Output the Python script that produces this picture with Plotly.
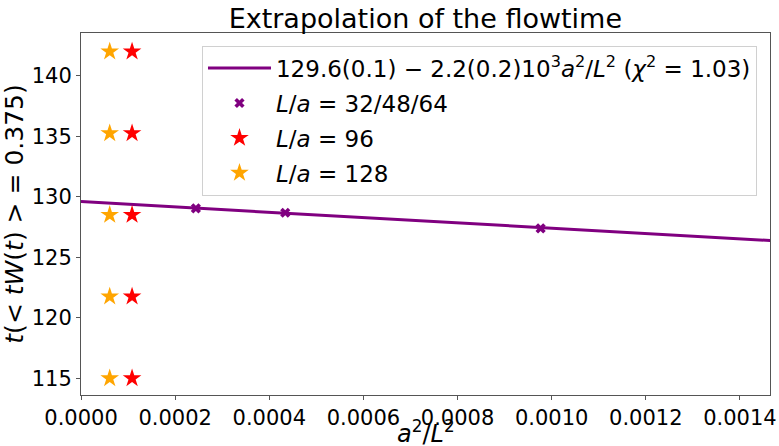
import plotly.graph_objects as go

# --- data ---
x_fit_pts = [0.0009766, 0.0004340, 0.0002441]   # L/a = 32, 48, 64
y_fit_pts = [127.39, 128.68, 129.04]
err_fit_pts = [0.08, 0.08, 0.08]

x_96 = [0.0001085] * 5
y_96 = [115.0, 121.75, 128.5, 135.25, 142.0]

x_128 = [0.0000610] * 5
y_128 = [115.0, 121.75, 128.5, 135.25, 142.0]

line_x = [0.0, 0.0015]
line_y = [129.6, 126.3]

x_ticks = [0.0, 0.0002, 0.0004, 0.0006, 0.0008, 0.0010, 0.0012, 0.0014]
y_ticks = [115, 120, 125, 130, 135, 140]

FONT = "DejaVu Sans"
PURPLE = "#800080"

fig = go.Figure()
fig.add_trace(go.Scatter(
    x=line_x, y=line_y, mode="lines",
    line=dict(color=PURPLE, width=3), legendgroup="a",
    name="129.6(0.1) − 2.2(0.2)10<sup>3</sup><i>a</i><sup>2</sup>/<i>L</i><sup>2</sup> (<i>χ</i><sup>2</sup> = 1.03)",
))
fig.add_trace(go.Scatter(
    x=x_fit_pts, y=y_fit_pts, mode="markers", legendgroup="b",
    marker=dict(symbol="x", size=9, color=PURPLE),
    error_y=dict(type="data", array=err_fit_pts, color=PURPLE, thickness=1, width=0),
    name="<i>L</i>/<i>a</i> = 32/48/64",
))
fig.add_trace(go.Scatter(
    x=x_96, y=y_96, mode="markers", legendgroup="c",
    marker=dict(symbol="star", size=14, color="red"),
    name="<i>L</i>/<i>a</i> = 96",
))
fig.add_trace(go.Scatter(
    x=x_128, y=y_128, mode="markers", legendgroup="d",
    marker=dict(symbol="star", size=14, color="orange"),
    name="<i>L</i>/<i>a</i> = 128",
))

axis_common = dict(
    showline=True, linecolor="#555", linewidth=1, mirror=True,
    ticks="outside", ticklen=4, tickcolor="#555",
    showgrid=False, zeroline=False, automargin=False,
    tickfont=dict(family=FONT, size=21, color="black"),
)

fig.update_layout(
    width=779, height=446,
    margin=dict(l=81, r=9, t=33, b=51),
    paper_bgcolor="white", plot_bgcolor="white",
    font=dict(family=FONT, color="black"),
    title=dict(text="Extrapolation of the flowtime", x=0.546, xanchor="center",
               y=0.958, yanchor="middle", yref="container",
               font=dict(family=FONT, size=27, color="black")),
    xaxis=dict(range=[0, 0.001464], tickvals=x_ticks, tickformat=".4f",
               **axis_common),
    yaxis=dict(range=[113.62, 143.53], tickvals=y_ticks,
               title=dict(text="<i>t</i>(&lt; <i>tW</i>(<i>t</i>) &gt; = 0.375)", standoff=4,
                          font=dict(family=FONT, size=25)),
               **axis_common),
    legend=dict(x=0.1756, y=0.965, xanchor="left", yanchor="top",
                bgcolor="rgba(255,255,255,0.8)", bordercolor="#d0d0d0", borderwidth=1,
                font=dict(family=FONT, size=23, color="black"),
                itemwidth=63, tracegroupgap=2),
    showlegend=True,
    annotations=[dict(
        text="<i>a</i><sup>2</sup>/<i>L</i><sup>2</sup>",
        xref="paper", yref="paper", x=0.5, y=-0.102,
        xanchor="center", yanchor="middle", showarrow=False,
        font=dict(family=FONT, size=24, color="black"),
    )],
)

fig.write_html("out.html")
